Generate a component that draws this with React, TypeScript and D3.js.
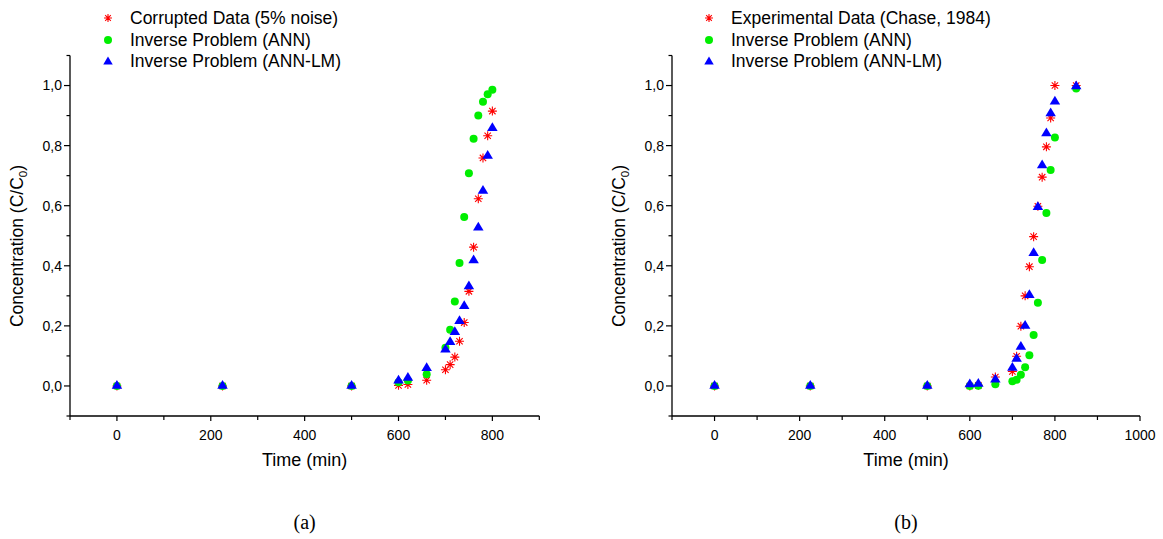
import React from "react";
import * as d3 from "d3";

// ---- data ----
const timesA = [0, 225, 500, 600, 620, 660, 700, 710, 720, 730, 740, 750, 760, 770, 780, 790, 800];
const corruptedA = [0, 0, 0, 0.002, 0.005, 0.019, 0.054, 0.071, 0.096, 0.149, 0.211, 0.315, 0.462, 0.623, 0.759, 0.833, 0.915];
const annA = [0, 0, 0, 0.012, 0.018, 0.039, 0.127, 0.187, 0.281, 0.409, 0.562, 0.708, 0.823, 0.9, 0.946, 0.971, 0.986];
const annLmA = [0.003, 0.003, 0.003, 0.021, 0.03, 0.062, 0.124, 0.149, 0.182, 0.219, 0.269, 0.334, 0.421, 0.53, 0.652, 0.769, 0.861];

const timesB = [0, 225, 500, 600, 620, 660, 700, 710, 720, 730, 740, 750, 760, 770, 780, 790, 800, 850];
const experimentalB = [0, 0, 0, 0, 0.002, 0.03, 0.048, 0.099, 0.199, 0.3, 0.397, 0.497, 0.598, 0.695, 0.796, 0.892, 1.0, 1.0];
const annB = [0, 0, 0, 0, 0.001, 0.006, 0.016, 0.021, 0.037, 0.062, 0.102, 0.17, 0.277, 0.419, 0.576, 0.719, 0.827, 0.99];
const annLmB = [0.003, 0.003, 0.003, 0.008, 0.01, 0.024, 0.063, 0.093, 0.133, 0.203, 0.305, 0.445, 0.598, 0.737, 0.844, 0.91, 0.949, 1.0];

const legendA = ["Corrupted Data (5% noise)", "Inverse Problem (ANN)", "Inverse Problem (ANN-LM)"];
const legendB = ["Experimental Data (Chase, 1984)", "Inverse Problem (ANN)", "Inverse Problem (ANN-LM)"];

const xMajorA = [0, 200, 400, 600, 800];
const xMinorA = [-100, 100, 300, 500, 700, 900];
const xMajorB = [0, 200, 400, 600, 800, 1000];
const xMinorB = [-100, 100, 300, 500, 700, 900];
const yMajor = [0, 0.2, 0.4, 0.6, 0.8, 1.0];
const yMinor = [-0.1, 0.1, 0.3, 0.5, 0.7, 0.9, 1.1];

const RED = "#ff0000";
const GREEN = "#00ee00";
const BLUE = "#0000ff";
const FONT = "Arial, 'Liberation Sans', sans-serif";

const comma = (v: number) => d3.format(".1f")(v).replace(".", ",");

const Star = ({ x, y, r = 4.5 }: { x: number; y: number; r?: number }) => {
  const d = r * 0.707;
  return (
    <path
      d={`M${x - r},${y}H${x + r}M${x},${y - r}V${y + r}M${x - d},${y - d}L${x + d},${y + d}M${x - d},${y + d}L${x + d},${y - d}`}
      stroke={RED}
      strokeWidth={1.1}
      fill="none"
    />
  );
};

const Tri = ({ x, y, s = 5 }: { x: number; y: number; s?: number }) => (
  <path d={`M${x},${y - s}L${x + s * 1.05},${y + s * 0.75}L${x - s * 1.05},${y + s * 0.75}Z`} fill={BLUE} />
);

const Dot = ({ x, y }: { x: number; y: number }) => <circle cx={x} cy={y} r={4} fill={GREEN} />;

type PanelProps = {
  times: number[];
  red: number[];
  green: number[];
  blue: number[];
  xDomain: [number, number];
  xRange: [number, number];
  xMajor: number[];
  xMinor: number[];
  legend: string[];
  legendX: number;
  caption: string;
};

const Panel = (p: PanelProps) => {
  const x = d3.scaleLinear().domain(p.xDomain).range(p.xRange);
  const y = d3.scaleLinear().domain([-0.1, 1.1]).range([416, 55.5]);
  const x0 = p.xRange[0];
  const yBase = y(-0.1);
  const midX = (p.xRange[0] + p.xRange[1]) / 2;
  const rows = [18, 40, 61];

  return (
    <g fontFamily={FONT}>
      {/* axes */}
      <line x1={x0} x2={x0} y1={y(1.1)} y2={yBase} stroke="#000" strokeWidth={1.3} />
      <line x1={x0} x2={p.xRange[1]} y1={yBase} y2={yBase} stroke="#000" strokeWidth={1.3} />
      {yMajor.map((v) => (
        <g key={"ym" + v}>
          <line x1={x0 - 6} x2={x0} y1={y(v)} y2={y(v)} stroke="#000" strokeWidth={1.2} />
          <text x={x0 - 8} y={y(v)} dy="0.35em" textAnchor="end" fontSize={14}>
            {comma(v)}
          </text>
        </g>
      ))}
      {yMinor.map((v) => (
        <line key={"yn" + v} x1={x0 - 3.5} x2={x0} y1={y(v)} y2={y(v)} stroke="#000" strokeWidth={1.2} />
      ))}
      {p.xMajor.map((v) => (
        <g key={"xm" + v}>
          <line x1={x(v)} x2={x(v)} y1={yBase} y2={yBase + 5} stroke="#000" strokeWidth={1.2} />
          <text x={x(v)} y={yBase + 24} textAnchor="middle" fontSize={14}>
            {v}
          </text>
        </g>
      ))}
      {p.xMinor.map((v) => (
        <line key={"xn" + v} x1={x(v)} x2={x(v)} y1={yBase} y2={yBase + 4} stroke="#000" strokeWidth={1.2} />
      ))}

      {/* titles */}
      <text x={midX} y={466} textAnchor="middle" fontSize={18}>
        Time (min)
      </text>
      <text transform={`translate(${x0 - 47},${246}) rotate(-90)`} textAnchor="middle" fontSize={17.5}>
        Concentration (C/C
        <tspan fontSize={11.5} dy={4}>0</tspan>
        <tspan dy={-4}>)</tspan>
      </text>

      {/* data */}
      {p.times.map((t, i) => (
        <Star key={"r" + i} x={x(t)} y={y(p.red[i])} />
      ))}
      {p.times.map((t, i) => (
        <Dot key={"g" + i} x={x(t)} y={y(p.green[i])} />
      ))}
      {p.times.map((t, i) => (
        <Tri key={"b" + i} x={x(t)} y={y(p.blue[i])} />
      ))}

      {/* legend */}
      <Star x={p.legendX} y={rows[0]} r={4} />
      <Dot x={p.legendX} y={rows[1]} />
      <Tri x={p.legendX} y={rows[2]} s={4.5} />
      {p.legend.map((s, i) => (
        <text key={s} x={p.legendX + 22} y={rows[i]} dy="0.36em" fontSize={17.5}>
          {s}
        </text>
      ))}

      <text x={midX} y={529} textAnchor="middle" fontSize={20} fontFamily="'Liberation Serif', 'Times New Roman', serif">
        {p.caption}
      </text>
    </g>
  );
};

export default function App() {
  return (
    <svg width={1163} height={539} style={{ position: "absolute", left: 0, top: 0, background: "#fff" }}>
      <rect width={1163} height={539} fill="#fff" />
      <Panel
        times={timesA}
        red={corruptedA}
        green={annA}
        blue={annLmA}
        xDomain={[-100, 900]}
        xRange={[70, 539.3]}
        xMajor={xMajorA}
        xMinor={xMinorA}
        legend={legendA}
        legendX={108}
        caption="(a)"
      />
      <Panel
        times={timesB}
        red={experimentalB}
        green={annB}
        blue={annLmB}
        xDomain={[-100, 1000]}
        xRange={[672, 1140]}
        xMajor={xMajorB}
        xMinor={xMinorB}
        legend={legendB}
        legendX={709}
        caption="(b)"
      />
    </svg>
  );
}
